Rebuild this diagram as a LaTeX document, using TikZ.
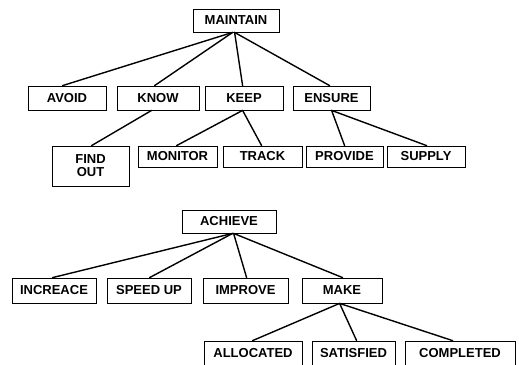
\documentclass[tikz,border=0pt]{standalone}
\usepackage{fontspec}
\setmainfont{Liberation Sans}
\usetikzlibrary{calc}
\tikzset{
  box/.style={draw=black, line width=0.8pt, inner sep=0pt, minimum height=24pt,
    font=\fontsize{13}{13}\selectfont\bfseries, align=center, fill=white},
  link/.style={draw=black, line width=1.4pt, line cap=round}
}
\begin{document}
\begin{tikzpicture}[x=1pt,y=-1pt]
\useasboundingbox (0,0) rectangle (519,364);
\clip (0,0) rectangle (519,364);
\fill[white] (0,0) rectangle (519,364);
% upper tree
\node[box, minimum width=86pt, minimum height=23pt] (M) at (236,20.5) {MAINTAIN};
\node[box, minimum width=78pt] (avoid) at (67,98) {AVOID};
\node[box, minimum width=82pt] (know) at (158,98) {KNOW};
\node[box, minimum width=78pt] (keep) at (244,98) {KEEP};
\node[box, minimum width=77pt] (ensure) at (331.5,98) {ENSURE};
\node[box, minimum width=77pt, minimum height=40pt] (findout) at (90.5,166) {FIND\\OUT};
\node[box, minimum width=79pt, minimum height=21pt] (monitor) at (177.5,156.5) {MONITOR};
\node[box, minimum width=79pt, minimum height=21pt] (track) at (262.5,156.5) {TRACK};
\node[box, minimum width=77pt, minimum height=21pt] (provide) at (344.5,156.5) {PROVIDE};
\node[box, minimum width=78pt, minimum height=21pt] (supply) at (426,156.5) {SUPPLY};
% lower tree
\node[box, minimum width=94pt, minimum height=23pt] (A) at (229,221.5) {ACHIEVE};
\node[box, minimum width=84pt, minimum height=25pt] (increace) at (54,290.5) {INCREACE};
\node[box, minimum width=84pt, minimum height=25pt] (speedup) at (149,290.5) {SPEED UP};
\node[box, minimum width=85pt, minimum height=25pt] (improve) at (245.5,290.5) {IMPROVE};
\node[box, minimum width=80pt, minimum height=25pt] (make) at (342,290.5) {MAKE};
\node[box, minimum width=98pt, minimum height=25pt] (allocated) at (253,353.5) {ALLOCATED};
\node[box, minimum width=83pt, minimum height=25pt] (satisfied) at (353.5,353.5) {SATISFIED};
\node[box, minimum width=110pt, minimum height=25pt] (completed) at (460,353.5) {COMPLETED};
% links upper
\draw[link] ($(M.south west)+(40,0)$) -- ($(avoid.north west)+(35,0)$);
\draw[link] ($(M.south west)+(40,0)$) -- ($(know.north west)+(38,0)$);
\draw[link] ($(M.south west)+(42,0)$) -- ($(keep.north west)+(38,0)$);
\draw[link] ($(M.south west)+(42,0)$) -- ($(ensure.north west)+(37,0)$);
\draw[link] ($(know.south west)+(35,0)$) -- ($(findout.north west)+(40,0)$);
\draw[link] ($(keep.south west)+(38,0)$) -- ($(monitor.north west)+(39,0)$);
\draw[link] ($(keep.south west)+(38,0)$) -- ($(track.north west)+(39,0)$);
\draw[link] ($(ensure.south west)+(39,0)$) -- ($(provide.north west)+(39,0)$);
\draw[link] ($(ensure.south west)+(39,0)$) -- ($(supply.north west)+(40,0)$);
% links lower
\draw[link] ($(A.south west)+(51,0)$) -- ($(increace.north west)+(41,0)$);
\draw[link] ($(A.south west)+(51,0)$) -- ($(speedup.north west)+(43,0)$);
\draw[link] ($(A.south west)+(52,0)$) -- ($(improve.north west)+(44,0)$);
\draw[link] ($(A.south west)+(52,0)$) -- ($(make.north west)+(41,0)$);
\draw[link] ($(make.south west)+(38,0)$) -- ($(allocated.north west)+(49,0)$);
\draw[link] ($(make.south west)+(38,0)$) -- ($(satisfied.north west)+(45,0)$);
\draw[link] ($(make.south west)+(38,0)$) -- ($(completed.north west)+(48,0)$);
\end{tikzpicture}
\end{document}
